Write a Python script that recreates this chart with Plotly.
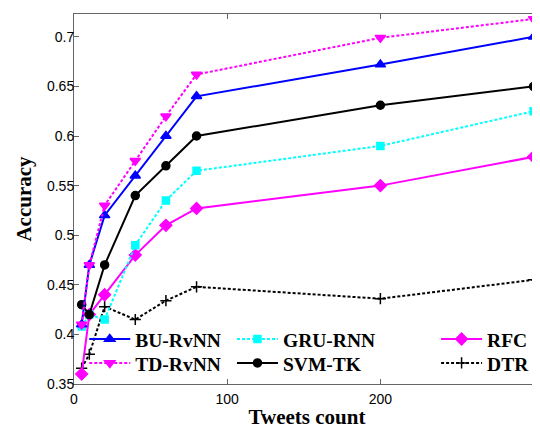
import plotly.graph_objects as go

tweets = [5, 10, 20, 40, 60, 80, 200, 300]
bu_rvnn = [0.410, 0.470, 0.520, 0.560, 0.600, 0.640, 0.672, 0.700]
td_rvnn = [0.410, 0.470, 0.530, 0.575, 0.620, 0.662, 0.699, 0.718]
svm_tk = [0.430, 0.420, 0.470, 0.540, 0.570, 0.600, 0.631, 0.650]
gru_rnn = [0.408, 0.420, 0.415, 0.490, 0.535, 0.565, 0.590, 0.625]
rfc = [0.360, 0.420, 0.440, 0.480, 0.510, 0.527, 0.550, 0.579]
dtr = [0.366, 0.380, 0.428, 0.415, 0.434, 0.448, 0.436, 0.455]

series = [
    ("DTR", dtr, "#000000", "3px,2px", "cross-thin", 8, "legend6"),
    ("RFC", rfc, "#ff00ff", "solid", "diamond", 9, "legend5"),
    ("GRU-RNN", gru_rnn, "#00ffff", "3px,2px", "square", 7, "legend3"),
    ("SVM-TK", svm_tk, "#000000", "solid", "circle", 8, "legend4"),
    ("BU-RvNN", bu_rvnn, "#0000ff", "solid", "triangle-up", 9, "legend"),
    ("TD-RvNN", td_rvnn, "#ff00ff", "3px,2px", "triangle-down", 9, "legend2"),
]

fig = go.Figure()
for name, ys, color, dash, symbol, size, leg in series:
    fig.add_trace(go.Scatter(
        x=tweets, y=ys, name="<b>" + name + "</b>", mode="lines+markers",
        line=dict(color=color, width=2, dash=dash),
        marker=dict(symbol=symbol, size=size, color=color,
                    line=dict(color=color, width=1.5)),
        legend=leg,
    ))

axis_common = dict(
    showline=True, linecolor="#666666", linewidth=1, mirror="ticks",
    ticks="inside", ticklen=5, tickcolor="#666666", showgrid=False,
    zeroline=False, automargin=False,
    tickfont=dict(family="Liberation Sans, Arial", size=14, color="#000000"),
    title_font=dict(family="Liberation Serif, Times New Roman", size=21,
                    color="#000000"),
)

leg_common = dict(
    orientation="v", xanchor="left", yanchor="middle",
    bgcolor="rgba(0,0,0,0)", borderwidth=0,
    font=dict(family="Liberation Serif, Times New Roman", size=19.5,
              color="#000000"),
    itemwidth=41, tracegroupgap=0,
)
row1, row2 = 0.1208, 0.056
col1, col2, col3 = 0.022, 0.339, 0.777

fig.update_layout(
    width=532, height=421,
    margin=dict(l=66, r=0, t=6, b=45, autoexpand=False),
    paper_bgcolor="white", plot_bgcolor="white",
    xaxis=dict(range=[0, 304.2], tickvals=[0, 100, 200, 300],
               ticklabelstandoff=2,
               title=dict(text="<b>Tweets count</b>", standoff=16),
               **axis_common),
    yaxis=dict(range=[0.35, 0.723],
               tickvals=[0.35, 0.4, 0.45, 0.5, 0.55, 0.6, 0.65, 0.7],
               ticktext=["0.35", "0.4", "0.45", "0.5", "0.55", "0.6", "0.65", "0.7"],
               ticklabelstandoff=-4,
               title=dict(text="<b>Accuracy</b>", standoff=9),
               **axis_common),
    legend=dict(x=col1, y=row1, **leg_common),
    legend2=dict(x=col1, y=row2, **leg_common),
    legend3=dict(x=col2, y=row1, **leg_common),
    legend4=dict(x=col2, y=row2, **leg_common),
    legend5=dict(x=col3, y=row1, **leg_common),
    legend6=dict(x=col3, y=row2, **leg_common),
    showlegend=True,
)

fig.write_html("out.html")
